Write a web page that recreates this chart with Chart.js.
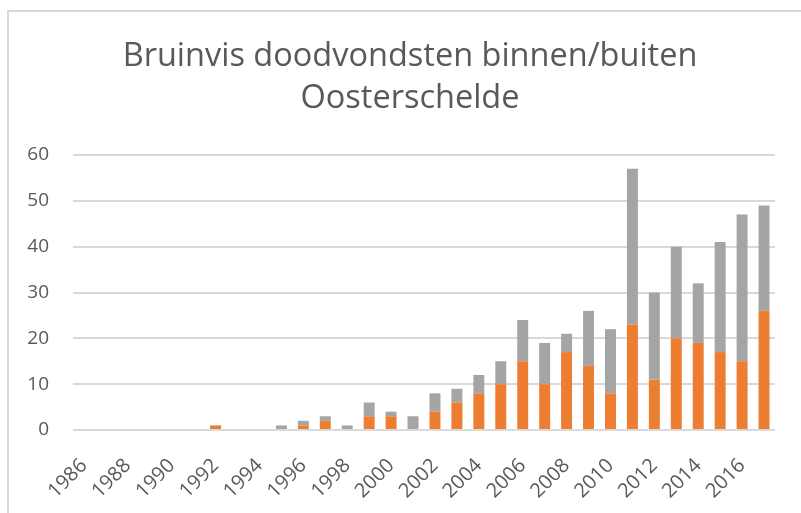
<!DOCTYPE html>
<html>
<head>
<meta charset="utf-8">
<script src="https://cdn.jsdelivr.net/npm/chart.js@4"></script>
<style>
  body { margin: 0; background: #fff; overflow: hidden; }
  .frame {
    position: absolute;
    left: 7px;
    top: 10px;
    width: 792px;
    height: 501px;
    border-left: 2px solid #d9d9d9;
    border-top: 2px solid #d9d9d9;
  }
</style>
</head>
<body>
<div class="frame"><canvas id="myChart" width="792" height="501"></canvas></div>
<script>
const years = [
  "1986", "1987", "1988", "1989", "1990", "1991", "1992", "1993",
  "1994", "1995", "1996", "1997", "1998", "1999", "2000", "2001",
  "2002", "2003", "2004", "2005", "2006", "2007", "2008", "2009",
  "2010", "2011", "2012", "2013", "2014", "2015", "2016", "2017",
];
// orange part of each bar
const binnen = [
  0, 0, 0, 0, 0, 0, 1, 0,
  0, 0, 1, 2, 0, 3, 3, 0,
  4, 6, 8, 10, 15, 10, 17, 14,
  8, 23, 11, 20, 19, 17, 15, 26,
];
// grey part stacked on top
const buiten = [
  0, 0, 0, 0, 0, 0, 0, 0,
  0, 1, 1, 1, 1, 3, 1, 3,
  4, 3, 4, 5, 9, 9, 4, 12,
  14, 34, 19, 20, 13, 24, 32, 23,
];
const yTicks = [0, 10, 20, 30, 40, 50, 60];

const textColor = "#595959";
const gridColor = "#d9d9d9";

// the title in the reference sits a bit right of the plot's centre
const shiftTitle = {
  id: "shiftTitle",
  afterLayout: (chart) => {
    if (chart.titleBlock) {
      chart.titleBlock.left += 18;
      chart.titleBlock.right += 18;
    }
  },
};

const ctx = document.getElementById("myChart");
const myChart = new Chart(ctx, {
  type: "bar",
  data: {
    labels: years,
    datasets: [
      {
        label: "Binnen Oosterschelde",
        data: binnen,
        backgroundColor: "#ed7d31",
        barPercentage: 0.5,
        categoryPercentage: 1,
      },
      {
        label: "Buiten Oosterschelde",
        data: buiten,
        backgroundColor: "#a5a5a5",
        barPercentage: 0.5,
        categoryPercentage: 1,
      },
    ],
  },
  options: {
    responsive: false,
    animation: false,
    layout: {
      padding: { left: 0, right: 26, top: 0, bottom: 0 },
    },
    plugins: {
      legend: { display: false },
      tooltip: { enabled: false },
      title: {
        display: true,
        text: ["Bruinvis doodvondsten binnen/buiten", "Oosterschelde"],
        color: textColor,
        font: { family: "'Open Sans', sans-serif", size: 32.5, weight: "normal", lineHeight: "42px" },
        padding: { top: 24, bottom: 35 },
      },
    },
    scales: {
      x: {
        stacked: true,
        grid: { display: false },
        border: { display: false },
        ticks: {
          color: textColor,
          font: { family: "'Open Sans', sans-serif", size: 20 },
          autoSkip: false,
          maxRotation: 45,
          minRotation: 45,
          padding: 16,
          callback: (value, index) => (index % 2 === 0 ? years[index] : null),
        },
        afterFit: (scale) => {
          scale.height = 83;
        },
      },
      y: {
        stacked: true,
        min: 0,
        max: 60,
        afterBuildTicks: (scale) => {
          scale.ticks = yTicks.map((v) => ({ value: v }));
        },
        grid: { color: gridColor, lineWidth: 2, drawTicks: false },
        border: { display: false },
        ticks: {
          color: textColor,
          font: { family: "'Open Sans', sans-serif", size: 19 },
          padding: 24,
        },
        afterFit: (scale) => {
          scale.width = 64;
        },
      },
    },
  },
  plugins: [shiftTitle],
});
</script>
</body>
</html>
